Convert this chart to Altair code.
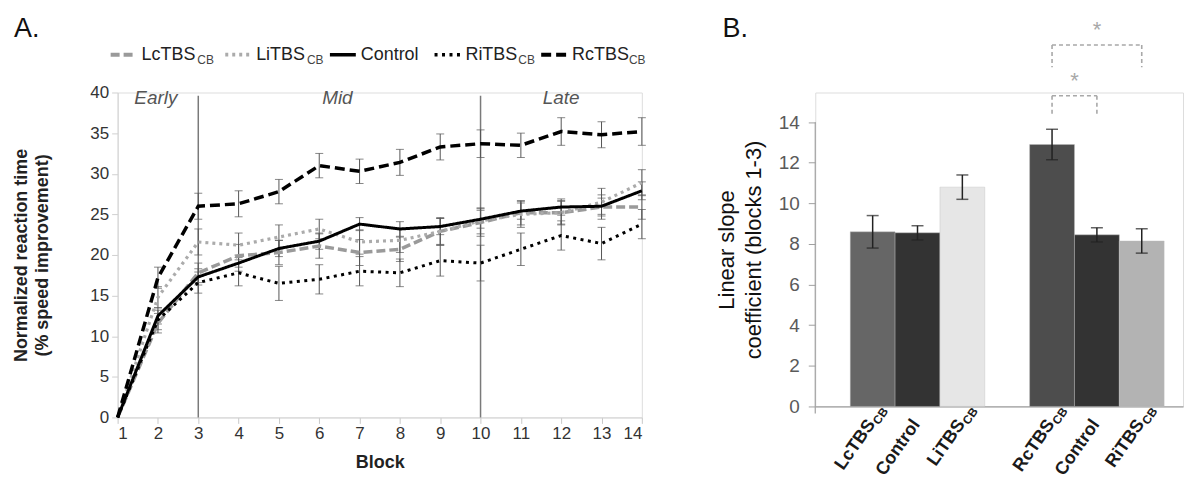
import altair as alt
import pandas as pd

# ---------------- data: panel A ----------------
blocks = list(range(1, 15))
series_names = ["LcTBS", "LiTBS", "Control", "RiTBS", "RcTBS"]
lc_mean = [0, 11.6, 17.8, 19.9, 20.3, 21.1, 20.3, 20.7, 22.9, 24.0, 25.2, 25.2, 25.9, 25.9]
lc_err = [0, 1.2, 1.2, 1.4, 1.5, 1.5, 1.6, 1.5, 1.6, 1.7, 1.5, 1.4, 1.5, 1.5]
li_mean = [0, 14.8, 21.6, 21.2, 22.2, 23.2, 21.6, 21.8, 22.9, 24.2, 25.0, 25.2, 26.5, 28.9]
li_err = [0, 1.3, 1.6, 1.5, 1.5, 1.2, 1.5, 1.5, 1.7, 1.6, 1.6, 1.5, 1.7, 1.6]
ctrl_mean = [0, 12.5, 17.3, 19.0, 20.8, 21.7, 23.8, 23.2, 23.5, 24.4, 25.4, 25.9, 26.0, 27.9]
ctrl_err = [0, 1.0, 1.0, 1.0, 1.0, 1.0, 0.8, 0.9, 1.0, 1.1, 1.0, 1.0, 1.0, 1.1]
ri_mean = [0, 12.0, 16.6, 17.8, 16.5, 17.0, 18.0, 17.8, 19.3, 19.0, 20.7, 22.4, 21.4, 23.8]
ri_err = [0, 1.2, 1.3, 1.6, 2.1, 1.8, 1.8, 1.7, 1.9, 2.2, 2.0, 1.8, 2.0, 1.8]
rc_mean = [0, 17.2, 26.0, 26.3, 27.8, 31.0, 30.3, 31.4, 33.3, 33.7, 33.5, 35.2, 34.8, 35.2]
rc_err = [0, 1.3, 1.6, 1.6, 1.5, 1.5, 1.5, 1.6, 1.6, 1.7, 1.5, 1.7, 1.6, 1.7]
phase_bounds = [3, 10]
phase_names = ["Early", "Mid", "Late"]
phase_centers = [1.95, 6.45, 12.0]

# ---------------- data: panel B ----------------
b_keys = ["LcTBS_L", "Control_L", "LiTBS_L", "RcTBS_R", "Control_R", "RiTBS_R"]
b_main = ["LcTBS", "Control", "LiTBS", "RcTBS", "Control", "RiTBS"]
b_sub = ["CB", "", "CB", "CB", "", "CB"]
b_vals = [8.6, 8.55, 10.8, 12.9, 8.45, 8.15]
b_errs = [0.8, 0.35, 0.6, 0.75, 0.35, 0.6]
sig_from = ["RcTBS_R", "RcTBS_R"]
sig_to = ["Control_R", "RiTBS_R"]
sig_level = [15.3, 17.8]
sig_leg = [14.3, 16.7]

# ---------------- styles ----------------
FONT = "Liberation Sans"
series_style = {
    "LcTBS": dict(color="#9a9a9a", dash=[9, 4], width=3.5),
    "LiTBS": dict(color="#ababab", dash=[3, 4], width=3.2),
    "Control": dict(color="#000000", dash=[1, 0], width=3),
    "RiTBS": dict(color="#000000", dash=[3, 4.5], width=3),
    "RcTBS": dict(color="#000000", dash=[10, 5], width=3.5),
}
b_colors = ["#666666", "#333333", "#e6e6e6", "#4d4d4d", "#333333", "#b3b3b3"]

WA, HA = 526, 326
WB, HB = 369, 315
YB_MAX = 15.46

means = {"LcTBS": lc_mean, "LiTBS": li_mean, "Control": ctrl_mean, "RiTBS": ri_mean, "RcTBS": rc_mean}
errs = {"LcTBS": lc_err, "LiTBS": li_err, "Control": ctrl_err, "RiTBS": ri_err, "RcTBS": rc_err}
rows = []
for s in series_names:
    for b, m, e in zip(blocks, means[s], errs[s]):
        rows.append(dict(series=s, block=b, mean=m, lo=m - e, hi=m + e, err=e))
dfA = pd.DataFrame(rows)

x_scale_A = alt.Scale(domain=[1, 14], nice=False, zero=False)
y_scale_A = alt.Scale(domain=[0, 40], nice=False)
x_axis_A = alt.Axis(values=blocks, format="d", tickSize=6, tickColor="#c8c8c8", domainColor="#d4d4d4",
                    labelFontSize=17, labelColor="#333333", labelPadding=2, labelFont=FONT,
                    title="Block", titleFontSize=18, titleFontWeight="bold", titleColor="#222222",
                    titlePadding=12, titleFont=FONT, grid=False)
y_axis_A = alt.Axis(values=list(range(0, 41, 5)), tickSize=6, tickColor="#d0d0d0", domainColor="#d4d4d4",
                    labelFontSize=17, labelColor="#333333", labelPadding=3, labelFont=FONT,
                    title=["Normalized reaction time", "(% speed improvement)"], titleFontSize=18,
                    titleFontWeight="bold", titleColor="#222222", titlePadding=38, titleFont=FONT,
                    titleLineHeight=22, grid=False)


def xa(field):
    return alt.X(field, type="quantitative", scale=x_scale_A, axis=x_axis_A)


def ya(field):
    return alt.Y(field, type="quantitative", scale=y_scale_A, axis=y_axis_A)


layersA = []
# phase separators
layersA.append(alt.Chart(pd.DataFrame({"b": phase_bounds, "y0": [0, 0], "y1": [39.6, 39.6]}))
               .mark_rule(color="#7a7a7a", strokeWidth=1.5)
               .encode(x=xa("b"), y=ya("y0"), y2="y1"))
# error bars
layersA.append(alt.Chart(dfA[dfA["err"] > 0])
               .mark_errorbar(ticks=True, size=8, thickness=1, color="#555555")
               .encode(x=xa("block"), y=ya("lo"), y2="hi"))
# lines
for s in ["LcTBS", "LiTBS", "RiTBS", "RcTBS", "Control"]:
    st = series_style[s]
    layersA.append(alt.Chart(dfA[dfA["series"] == s])
                   .mark_line(color=st["color"], strokeDash=st["dash"], strokeWidth=st["width"])
                   .encode(x=xa("block"), y=ya("mean")))
# phase labels
layersA.append(alt.Chart(pd.DataFrame({"p": phase_names, "c": phase_centers, "yy": [39.3] * 3}))
               .mark_text(font=FONT, fontSize=19, fontStyle="italic", color="#555555", baseline="middle")
               .encode(x=xa("c"), y=ya("yy"), text="p:N"))

# custom legend (pixel layout above plot)
leg_y = -38
leg_items = [("LcTBS", "CB", -7), ("LiTBS", "CB", 108), ("Control", "", 213), ("RiTBS", "CB", 318), ("RcTBS", "CB", 425)]
main_w = {"LcTBS": 55, "LiTBS": 50, "Control": 60, "RiTBS": 52, "RcTBS": 56}
for name, sub, x0 in leg_items:
    st = series_style[name]
    layersA.append(alt.Chart(pd.DataFrame({"a": [0]})).mark_rule(
        color=st["color"], strokeDash=st["dash"], strokeWidth=st["width"] + 0.5)
        .encode(x=alt.value(x0), x2=alt.value(x0 + 26), y=alt.value(leg_y)))
    layersA.append(alt.Chart(pd.DataFrame({"t": [name]})).mark_text(
        font=FONT, fontSize=18, color="#222222", align="left", baseline="middle")
        .encode(x=alt.value(x0 + 31), y=alt.value(leg_y), text="t:N"))
    if sub:
        layersA.append(alt.Chart(pd.DataFrame({"t": [sub]})).mark_text(
            font=FONT, fontSize=12, color="#444444", align="left", baseline="middle")
            .encode(x=alt.value(x0 + 31 + main_w[name] + 1), y=alt.value(leg_y + 5), text="t:N"))

# panel letter
layersA.append(alt.Chart(pd.DataFrame({"t": ["A."]})).mark_text(
    font=FONT, fontSize=27, color="#111111", align="left", baseline="alphabetic")
    .encode(x=alt.value(-104), y=alt.value(-56), text="t:N"))
# invisible layout pins
layersA.append(alt.Chart(pd.DataFrame({"a": [0]})).mark_rule(strokeOpacity=0, color="white")
               .encode(x=alt.value(-109), x2=alt.value(-108), y=alt.value(-83)))
layersA.append(alt.Chart(pd.DataFrame({"a": [0]})).mark_rule(strokeOpacity=0, color="white")
               .encode(x=alt.value(539), x2=alt.value(540), y=alt.value(-83)))

panelA = alt.layer(*layersA).properties(width=WA, height=HA)

# ---------------- panel B ----------------
dfB = pd.DataFrame(dict(key=b_keys, main=b_main, sub=b_sub, val=b_vals,
                        lo=[v - e for v, e in zip(b_vals, b_errs)],
                        hi=[v + e for v, e in zip(b_vals, b_errs)]))
domainB = b_keys[:3] + ["gap"] + b_keys[3:]
x_scale_B = alt.Scale(domain=domainB, paddingInner=0, paddingOuter=0.6, align=0.65)
x_axis_B = alt.Axis(labels=False, ticks=False, domainColor="#a0a0a0", domainWidth=1.2, title="", grid=False)
y_scale_B = alt.Scale(domain=[0, YB_MAX], nice=False)
y_axis_B = alt.Axis(values=list(range(0, 15, 2)), domain=False, tickSize=7, tickColor="#a0a0a0",
                    labelFontSize=19, labelColor="#5a5a5a", labelPadding=9, labelFont=FONT,
                    title=["Linear slope", "coefficient (blocks 1-3)"], titleFontSize=22,
                    titleFontWeight="normal", titleColor="#111111", titlePadding=13, titleFont=FONT,
                    titleLineHeight=27, grid=False)


def xb(field, **kw):
    return alt.X(field, type="nominal", scale=x_scale_B, axis=x_axis_B, **kw)


def yb(field):
    return alt.Y(field, type="quantitative", scale=y_scale_B, axis=y_axis_B)


layersB = []
layersB.append(alt.Chart(dfB).mark_bar(stroke="#bdbdbd", strokeWidth=0.4)
               .encode(x=xb("key"), y=yb("val"),
                       color=alt.Color("key:N", scale=alt.Scale(domain=b_keys, range=b_colors), legend=None)))
layersB.append(alt.Chart(dfB).mark_errorbar(ticks=True, size=12, thickness=1.5, color="#222222")
               .encode(x=xb("key"), y=yb("lo"), y2="hi"))
# y axis line (only up to 14)
layersB.append(alt.Chart(pd.DataFrame({"top": [14]})).mark_rule(color="#a0a0a0", strokeWidth=1.2)
               .encode(x=alt.value(0), y=yb("top"), y2=alt.value(HB + 7)))
# significance brackets
dfS = pd.DataFrame(dict(a=sig_from, b=sig_to, lvl=sig_level, leg=sig_leg))
br = dict(color="#a8a8a8", strokeDash=[4, 3], strokeWidth=1.6)
layersB.append(alt.Chart(dfS).mark_rule(**br).encode(x=xb("a"), x2="b", y=yb("lvl")))
layersB.append(alt.Chart(dfS).mark_rule(**br).encode(x=xb("a"), y=yb("lvl"), y2="leg"))
layersB.append(alt.Chart(dfS).mark_rule(**br).encode(x=xb("b"), y=yb("lvl"), y2="leg"))
star_df = pd.DataFrame(dict(k=["RcTBS_R", "Control_R"], s=["*", "*"], yy=[16.05, 18.55]))
layersB.append(alt.Chart(star_df.iloc[[0]]).mark_text(font=FONT, fontSize=22, color="#a8a8a8", baseline="middle")
               .encode(x=xb("k", bandPosition=1), y=yb("yy"), text="s:N"))
layersB.append(alt.Chart(star_df.iloc[[1]]).mark_text(font=FONT, fontSize=22, color="#a8a8a8", baseline="middle")
               .encode(x=xb("k"), y=yb("yy"), text="s:N"))
# rotated category labels with subscripts
ANG = 305
layersB.append(alt.Chart(dfB.assign(z=0)).mark_text(
    font=FONT, fontSize=18, fontWeight="bold", color="#1a1a1a", angle=ANG, align="right", baseline="middle",
    dx=-13, dy=8)
    .encode(x=xb("key"), y=yb("z"), text="main:N"))
layersB.append(alt.Chart(dfB[dfB["sub"] != ""].assign(z=0)).mark_text(
    font=FONT, fontSize=12, fontWeight="bold", color="#1a1a1a", angle=ANG, align="left", baseline="middle",
    dx=-12, dy=12)
    .encode(x=xb("key"), y=yb("z"), text="sub:N"))
# panel letter
layersB.append(alt.Chart(pd.DataFrame({"t": ["B."]})).mark_text(
    font=FONT, fontSize=27, color="#111111", align="left", baseline="alphabetic")
    .encode(x=alt.value(-93), y=alt.value(-56), text="t:N"))
layersB.append(alt.Chart(pd.DataFrame({"a": [0]})).mark_rule(strokeOpacity=0, color="white")
               .encode(x=alt.value(-107), x2=alt.value(-106), y=alt.value(-83)))

panelB = alt.layer(*layersB).properties(width=WB, height=HB)

chart = (alt.hconcat(panelA, panelB, spacing=51)
         .properties(padding={"left": 0, "top": 0, "right": 0, "bottom": 0})
         .configure_view(stroke=None)
         .configure(font=FONT))

chart.save("out.html", embed_options={"renderer": "svg", "actions": False})
